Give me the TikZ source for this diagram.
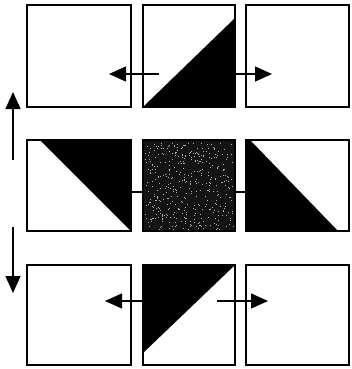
\documentclass[tikz,border=0pt]{standalone}
\usetikzlibrary{arrows.meta}
\begin{document}
\begin{tikzpicture}[x=1pt,y=-1pt,
  box/.style={draw,line width=1.5pt,inner sep=0pt,outer sep=0pt,anchor=north west},
  arr/.style={line width=1.3pt,-{Triangle[length=17pt,width=15pt]}},
  link/.style={line width=1.3pt}]
\useasboundingbox (0,0) rectangle (351,369);
% triangles (drawn first)
\fill[black] (143,107) -- (235,107) -- (235,18) -- cycle;
\fill[black] (40,140) -- (131,140) -- (131,231) -- cycle;
\fill[black] (246,140) -- (250,140) -- (338,231) -- (246,231) -- cycle;
\fill[black] (143,265) -- (235,265) -- (143,353) -- cycle;
% boxes
\node[box,minimum width=104pt,minimum height=102pt] (A1) at (27,5) {};
\node[box,minimum width=92pt,minimum height=102pt] (A2) at (143,5) {};
\node[box,minimum width=103pt,minimum height=102pt] (A3) at (246,5) {};
\node[box,minimum width=104pt,minimum height=91pt] (B1) at (27,140) {};
\node[box,fill=black!92,minimum width=92pt,minimum height=91pt] (B2) at (143,140) {};
\node[box,minimum width=103pt,minimum height=91pt] (B3) at (246,140) {};
\node[box,minimum width=104pt,minimum height=100pt] (C1) at (27,265) {};
\node[box,minimum width=92pt,minimum height=100pt] (C2) at (143,265) {};
\node[box,minimum width=103pt,minimum height=100pt] (C3) at (246,265) {};
% speckle texture in the middle box
\pgfmathsetseed{7}
\foreach \i in {1,...,420}{
  \pgfmathsetmacro\xx{145+88*rnd}
  \pgfmathsetmacro\yy{142+87*rnd}
  \fill[white!70!black] (\xx,\yy) rectangle ++(0.8,0.8);
}
% links in middle row
\draw[link] ([yshift=-6.5pt]B1.east) -- ([yshift=-6.5pt]B2.west);
\draw[link] ([yshift=-6.5pt]B2.east) -- ([yshift=-6.5pt]B3.west);
% arrows row 1
\coordinate (a1s) at (159,74);
\coordinate (a1t) at (109,74);
\coordinate (a2s) at (235,74);
\coordinate (a2t) at (272,74);
\draw[arr] (a1s) -- (a1t);
\draw[arr] (a2s) -- (a2t);
% arrows row 3
\coordinate (c1s) at (143,301);
\coordinate (c1t) at (105,301);
\coordinate (c2s) at (217,301);
\coordinate (c2t) at (268,301);
\draw[arr] (c1s) -- (c1t);
\draw[arr] (c2s) -- (c2t);
% vertical arrows
\coordinate (us) at (13,160);
\coordinate (ut) at (13,92);
\coordinate (ds) at (13,227);
\coordinate (dt) at (13,293);
\draw[arr] (us) -- (ut);
\draw[arr] (ds) -- (dt);
\end{tikzpicture}
\end{document}
